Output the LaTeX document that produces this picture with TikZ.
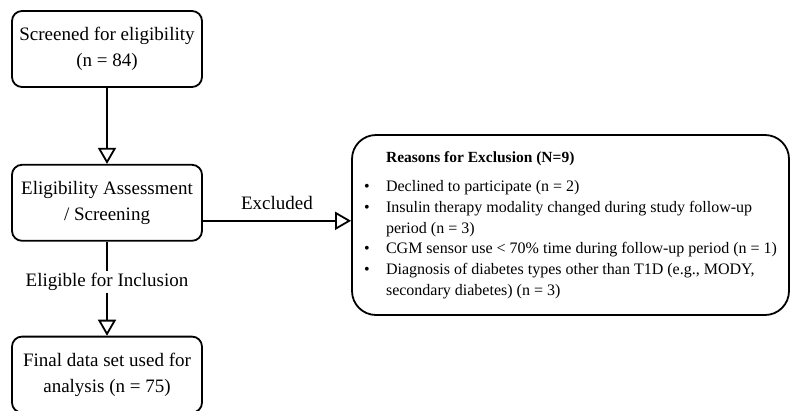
\documentclass[tikz,border=0pt]{standalone}
\usepackage{fontspec}
\setmainfont{Liberation Serif}
\usetikzlibrary{positioning, arrows.meta}

% bullet line and continued line inside the exclusion box
\newcommand{\reason}[1]{\makebox[22pt][l]{\textbullet}#1}
\newcommand{\contd}[1]{\hspace*{22pt}#1}

\begin{document}
\begin{tikzpicture}[
    % --- Global Settings ---
    % work in pixel-like units, y grows downwards
    x=1pt, y=-1pt,
    every node/.style={font=\fontsize{19}{26}\selectfont}
  ]

  % --- Style Definitions ---
  \tikzset{
    % Style for the flow boxes on the left
    box/.style={
      draw=black,
      line width=1.8pt,
      rounded corners=10pt,
      minimum width=190pt,
      minimum height=76pt,
      align=center
    },
    % Style for the box listing the exclusion reasons
    reasonbox/.style={
      draw=black,
      line width=1.8pt,
      rounded corners=24pt,
      minimum width=437pt,
      minimum height=180pt,
      align=left,
      font=\fontsize{16}{20.7}\selectfont
    },
    % Style for the text on the connectors
    flowlabel/.style={
      fill=white,
      inner sep=2pt
    },
    % Style for the arrows (open triangle heads)
    arrow/.style={
      line width=1.8pt,
      -{Triangle[open, width=18pt, length=16pt, line width=1.8pt]}
    }
  }

  \useasboundingbox (0,0) rectangle (791,410);

  % --- Node Placement ---
  % Screening box at the top
  \node[box] (screened) at (107, 49) {Screened for eligibility\\(n = 84)};

  % Assessment box
  \node[box] (assess) [below=76pt of screened] {Eligibility Assessment\\/ Screening};

  % Final data set box
  \node[box] (final) [below=94pt of assess] {Final data set used for\\analysis (n = 75)};

  % Exclusion reasons on the right
  \node[reasonbox] (reasons) at (570.5, 225) {%
    \hspace*{22pt}{\bfseries\fontsize{15.5}{18}\selectfont Reasons for Exclusion (N=9)}\\[9pt]
    \reason{Declined to participate (n = 2)}\\
    \reason{Insulin therapy modality changed during study follow-up}\\
    \contd{period (n = 3)}\\
    \reason{CGM sensor use < 70\% time during follow-up period (n = 1)}\\
    \reason{Diagnosis of diabetes types other than T1D (e.g., MODY,}\\
    \contd{secondary diabetes) (n = 3)}
  };

  % --- Path and Arrow Drawing ---
  % Main vertical flow
  \draw[arrow] (screened.south) -- (assess.north);
  \draw[arrow] (assess.south) -- (final.north)
    node[flowlabel, pos=0.43] {Eligible for Inclusion};

  % Branch to the excluded participants
  \draw[arrow] ([yshift=-18pt]assess.east) -- ([yshift=-18pt]assess.east -| reasons.west)
    node[midway, above=7pt] {Excluded};

\end{tikzpicture}
\end{document}
